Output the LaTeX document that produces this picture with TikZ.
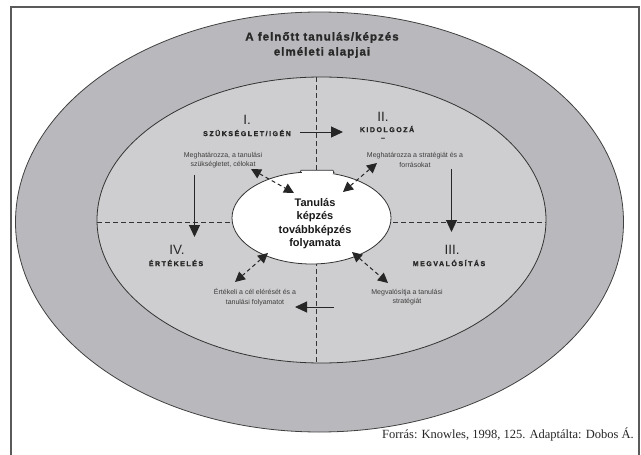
\documentclass[tikz,border=0pt]{standalone}
\usepackage{fontspec}
\setmainfont{Liberation Sans}
\newfontfamily\titlefont[LetterSpace=9,BoldFeatures={FakeBold=1.5}]{Liberation Sans}
\newfontfamily\capsfont[LetterSpace=22,BoldFeatures={FakeBold=1.5}]{Liberation Sans}
\newfontfamily\seriffont{Liberation Serif}
\usetikzlibrary{arrows.meta,shapes.geometric}
\definecolor{ringgray}{RGB}{185,185,189}
\definecolor{innergray}{RGB}{206,206,208}
\definecolor{framegray}{RGB}{90,90,90}
\definecolor{txtgray}{RGB}{40,40,40}
\tikzset{
  solidarrow/.style={draw=black!85, line width=1pt, -{Triangle[length=12pt,width=11pt]}},
  dasharrow/.style={draw=black!85, line width=1pt, dash pattern=on 4pt off 3pt,
     {Triangle[length=10pt,width=10pt]}-{Triangle[length=10pt,width=10pt]}},
  divider/.style={draw=black!80, line width=0.9pt, dash pattern=on 5pt off 3pt},
  numlabel/.style={font=\fontsize{13.5}{13.5}\selectfont, text=txtgray, inner sep=0pt},
  capslabel/.style={font=\capsfont\bfseries\fontsize{7}{9}\selectfont, text=txtgray, inner sep=0pt, align=center},
  smalltext/.style={font=\fontsize{7}{9.5}\selectfont, text=txtgray!90, inner sep=0pt, align=center},
}
\begin{document}
\begin{tikzpicture}[x=1pt,y=-1pt]
\useasboundingbox (0,0) rectangle (641,455);
% frame
\draw[framegray, line width=1.3pt] (11,470) -- (11,7) -- (639,7) -- (639,470);
% outer ellipse
\draw[fill=ringgray, draw=black!75, line width=0.8pt] (319.5,222) ellipse [x radius=304, y radius=210];
% inner ellipse
\draw[fill=innergray, draw=black!80, line width=0.8pt] (321.5,220) ellipse [x radius=224.5, y radius=143];
% dividers
\coordinate (vtop) at (316,77);
\coordinate (vbot) at (316,363);
\coordinate (hleft) at (97,222);
\coordinate (hright) at (546,222);
\draw[divider] (vtop) -- (vbot);
\draw[divider] (hleft) -- (hright);
% centre ellipse
\path[fill=white, draw=black!80, line width=0.7pt] (300,172.5) -- (301,170.3) -- (333,170.3) -- (334,172.5) -- cycle;
\node[ellipse, minimum width=159pt, minimum height=92pt, fill=white, draw=black!80, line width=0.8pt, inner sep=0pt] (centre) at (311.5,218) {};
\fill[white] (301.5,171) rectangle (332.5,174);
\node[font=\bfseries\fontsize{11}{13.3}\selectfont, align=center, text=black!90] (centretext) at (315,223.5) {Tanulás\\képzés\\továbbképzés\\folyamata};
% title
\node[font=\titlefont\bfseries\fontsize{11.5}{15}\selectfont, align=center, text=txtgray] (title) at (322,45) {A felnőtt tanulás/képzés\\elméleti alapjai};
% numbers
\node[numlabel] (n1) at (247,120) {I.};
\node[numlabel] (n2) at (383,117) {II.};
\node[numlabel] (n3) at (452,250) {III.};
\node[numlabel] (n4) at (177,250) {IV.};
% caps labels
\node[capslabel] (l1) at (247,133) {SZÜKSÉGLET/IGÉN};
\node[capslabel] (l2) at (387,129) {KIDOLGOZÁ};
\node[capslabel] (l2b) at (383,139) {–};
\node[capslabel] (l3) at (449,263) {MEGVALÓSÍTÁS};
\node[capslabel] (l4) at (176,263) {ÉRTÉKELÉS};
% small texts
\node[smalltext] (s1) at (223,160) {Meghatározza, a tanulási\\szükségletet, célokat};
\node[smalltext] (s2) at (415,160) {Meghatározza a stratégiát és a\\forrásokat};
\node[smalltext] (s3) at (255,297) {Értékeli a cél elérését és a\\tanulási folyamatot};
\node[smalltext] (s4) at (407,297) {Megvalósítja a tanulási\\stratégiát};
% solid arrows
\coordinate (a1s) at (300,132); \coordinate (a1e) at (343,132);
\coordinate (a2s) at (451.5,169); \coordinate (a2e) at (451.5,232);
\coordinate (a3s) at (334,307); \coordinate (a3e) at (295,307);
\coordinate (a4s) at (194.5,175); \coordinate (a4e) at (194.5,237);
\draw[solidarrow] (a1s) -- (a1e);
\draw[solidarrow] (a2s) -- (a2e);
\draw[solidarrow] (a3s) -- (a3e);
\draw[solidarrow] (a4s) -- (a4e);
% dashed double arrows
\coordinate (d1a) at (251,169); \coordinate (d1b) at (294,193);
\coordinate (d2a) at (343,192); \coordinate (d2b) at (377,163);
\coordinate (d3a) at (268,253); \coordinate (d3b) at (235,282);
\coordinate (d4a) at (352,252); \coordinate (d4b) at (388,283);
\draw[dasharrow] (d1a) -- (d1b);
\draw[dasharrow] (d2a) -- (d2b);
\draw[dasharrow] (d3a) -- (d3b);
\draw[dasharrow] (d4a) -- (d4b);
% source
\node[font=\seriffont\fontsize{12.5}{14}\selectfont, anchor=east, inner sep=0pt, text=black!85] (source) at (634,434) {Forrás: Knowles, 1998, 125. Adaptálta: Dobos Á.};
\end{tikzpicture}
\end{document}
